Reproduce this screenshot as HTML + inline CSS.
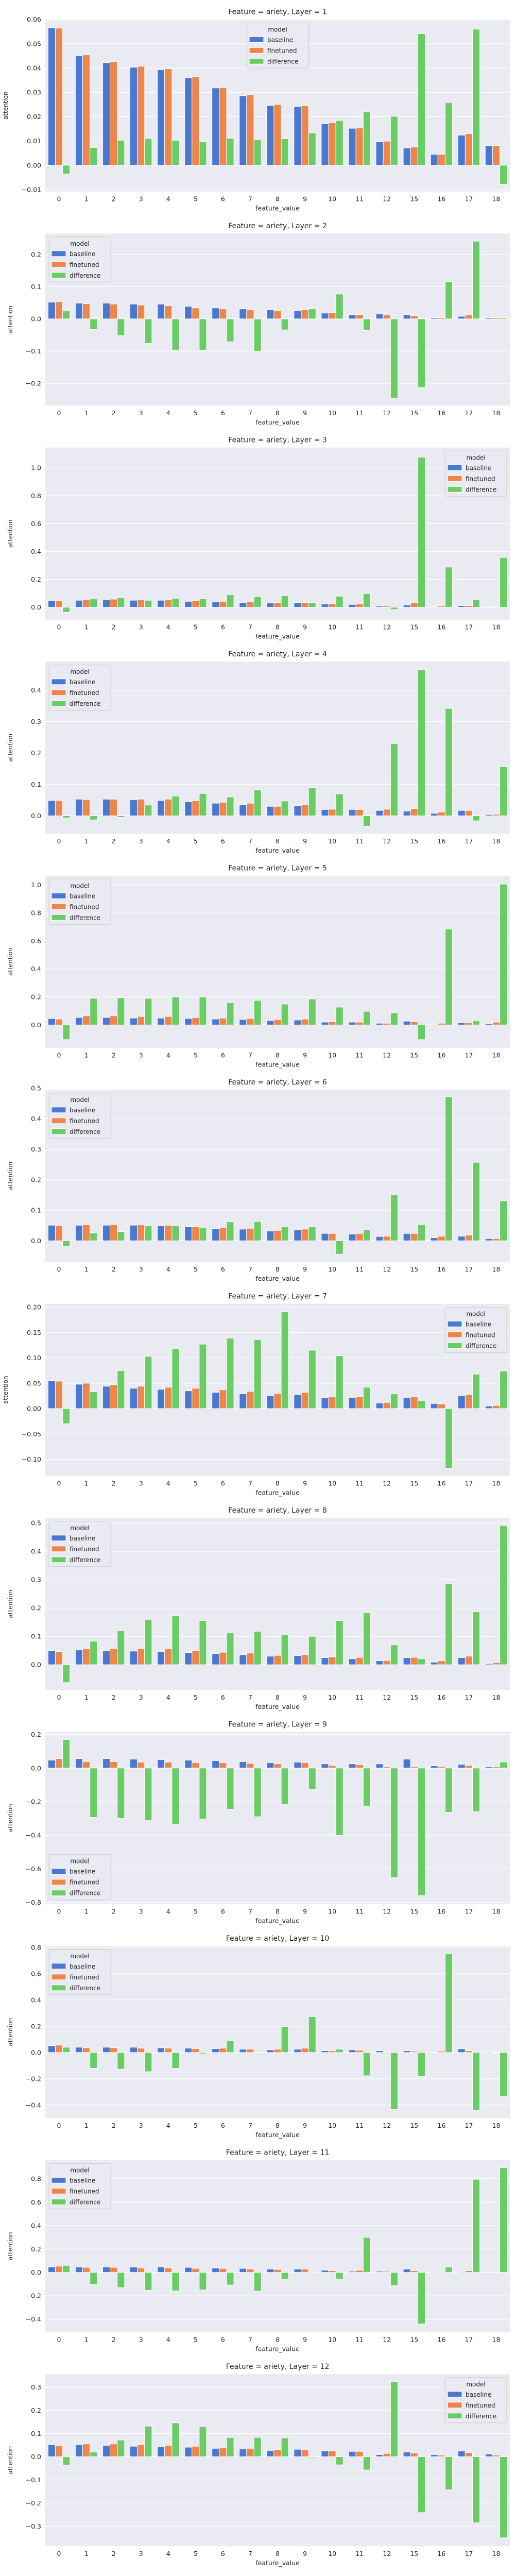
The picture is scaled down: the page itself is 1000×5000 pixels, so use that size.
<!DOCTYPE html>
<html><head><meta charset="utf-8">
<style>
html,body{margin:0;padding:0;background:#fff;}
svg{display:block;font-family:"DejaVu Sans","Liberation Sans",sans-serif;}
</style></head>
<body>
<svg id="chart" width="1000" height="5000" viewBox="0 0 1000 5000" xmlns="http://www.w3.org/2000/svg"></svg>
<script>
const categories = ["0","1","2","3","4","5","6","7","8","9","10","11","12","15","16","17","18"];
const seriesNames = ["baseline","finetuned","difference"];

const baseline_L1 = [.0566,.045,.0422,.0403,.0393,.0361,.0318,.0286,.0246,.0242,.0171,.0152,.0096,.0071,.0045,.0124,.0081];
const finetuned_L1 = [.0564,.0454,.0426,.0407,.0397,.0364,.032,.029,.025,.0246,.0175,.0154,.0099,.0075,.0045,.013,.0081];
const difference_L1 = [-.0036,.0073,.0103,.0111,.0103,.0096,.0111,.0105,.0109,.0133,.0184,.022,.0201,.0541,.0258,.056,-.0078];

const baseline_L2 = [.052,.049,.049,.046,.046,.039,.034,.031,.028,.026,.018,.013,.015,.013,.004,.008,.004];
const finetuned_L2 = [.054,.047,.046,.043,.041,.034,.031,.028,.026,.028,.020,.013,.012,.010,.004,.012,.004];
const difference_L2 = [.026,-.033,-.052,-.076,-.097,-.098,-.071,-.100,-.034,.031,.077,-.036,-.246,-.213,.115,.241,.004];

const baseline_L3 = [.049,.05,.054,.05,.05,.042,.038,.034,.030,.034,.023,.02,.008,.016,.004,.012,.001];
const finetuned_L3 = [.046,.054,.058,.054,.054,.046,.042,.038,.034,.034,.026,.023,.008,.034,.008,.012,.004];
const difference_L3 = [-.036,.06,.068,.05,.064,.06,.09,.075,.083,.031,.079,.098,-.017,1.077,.288,.053,.357];

const baseline_L4 = [.049,.053,.053,.051,.049,.045,.04,.036,.03,.032,.02,.02,.017,.015,.008,.017,.004];
const finetuned_L4 = [.049,.052,.053,.053,.053,.048,.043,.04,.03,.035,.021,.02,.021,.023,.012,.017,.005];
const difference_L4 = [-.007,-.013,-.005,.034,.063,.071,.06,.083,.047,.09,.07,-.033,.23,.465,.342,-.016,.157];

const baseline_L5 = [.046,.053,.053,.049,.049,.046,.042,.039,.032,.035,.02,.02,.012,.027,.004,.016,.008];
const finetuned_L5 = [.042,.065,.065,.06,.06,.053,.049,.046,.039,.042,.023,.02,.012,.023,.012,.016,.02];
const difference_L5 = [-.105,.19,.194,.19,.2,.2,.16,.175,.149,.186,.127,.097,.087,-.105,.685,.03,1.006];

const baseline_L6 = [.051,.051,.051,.051,.049,.046,.04,.038,.032,.036,.024,.022,.014,.024,.01,.015,.007];
const finetuned_L6 = [.049,.053,.053,.053,.051,.047,.044,.041,.034,.038,.024,.024,.015,.024,.015,.019,.007];
const difference_L6 = [-.018,.026,.03,.049,.049,.044,.062,.063,.046,.047,-.044,.037,.152,.053,.472,.257,.131];

const baseline_L7 = [.055,.048,.044,.04,.038,.035,.032,.029,.025,.028,.021,.022,.011,.022,.01,.026,.005];
const finetuned_L7 = [.054,.05,.047,.044,.042,.04,.037,.034,.03,.032,.023,.023,.012,.023,.009,.028,.006];
const difference_L7 = [-.03,.033,.075,.103,.118,.127,.139,.136,.191,.115,.104,.042,.029,.016,-.118,.068,.074];

const baseline_L8 = [.05,.052,.05,.048,.046,.043,.039,.035,.03,.032,.025,.021,.014,.025,.009,.025,.004];
const finetuned_L8 = [.046,.057,.057,.057,.056,.05,.044,.041,.033,.035,.028,.026,.015,.026,.014,.03,.008];
const difference_L8 = [-.063,.083,.12,.16,.172,.156,.112,.118,.105,.1,.156,.184,.07,.021,.285,.187,.491];

const baseline_L9 = [.047,.056,.056,.053,.05,.047,.044,.038,.032,.035,.025,.025,.025,.053,.013,.022,.007];
const finetuned_L9 = [.056,.038,.038,.035,.035,.032,.032,.028,.025,.032,.016,.02,.008,.01,.01,.016,.007];
const difference_L9 = [.17,-.294,-.3,-.313,-.334,-.303,-.245,-.29,-.214,-.127,-.401,-.226,-.653,-.76,-.263,-.26,.036];

const baseline_L10 = [.052,.04,.04,.04,.036,.033,.029,.025,.02,.025,.013,.02,.013,.013,.002,.028,.005];
const finetuned_L10 = [.056,.036,.036,.033,.033,.029,.033,.025,.025,.033,.013,.017,.005,.01,.01,.013,.002];
const difference_L10 = [.04,-.12,-.127,-.146,-.12,-.01,.088,0,.198,.272,.025,-.177,-.433,-.182,.75,-.44,-.335];

const baseline_L11 = [.047,.047,.047,.047,.047,.043,.038,.034,.029,.029,.019,.01,.01,.029,.006,.006,.003];
const finetuned_L11 = [.053,.043,.043,.038,.038,.034,.034,.029,.025,.029,.015,.019,.01,.015,.006,.015,.003];
const difference_L11 = [.06,-.103,-.13,-.153,-.157,-.149,-.107,-.16,-.056,.006,-.056,.3,-.113,-.44,.046,.795,.894];

const baseline_L12 = [.052,.052,.049,.045,.043,.041,.036,.033,.027,.032,.025,.023,.009,.02,.009,.025,.012];
const finetuned_L12 = [.049,.055,.055,.052,.049,.045,.04,.036,.03,.029,.025,.023,.014,.016,.007,.018,.007];
const difference_L12 = [-.037,.02,.072,.132,.146,.13,.083,.083,.081,-.004,-.035,-.057,.323,-.241,-.143,-.285,-.35];

const yMin = [-0.0108,-0.269,-0.089,-0.057,-0.163,-0.069,-0.1327,-0.089,-0.81,-0.499,-0.51,-0.386];
const yMax = [0.06,0.265,1.146,0.491,1.066,0.495,0.2065,0.518,0.215,0.81,0.959,0.356];
const tickStart = [-0.01,-0.2,0,0,0,0,-0.1,0,-0.8,-0.4,-0.4,-0.3];
const tickEnd = [0.06,0.2,1.0,0.4,1.0,0.5,0.2,0.5,0.2,0.8,0.8,0.3];
const tickStep = [0.01,0.1,0.2,0.1,0.2,0.1,0.05,0.1,0.2,0.2,0.2,0.1];
const tickDecimals = [2,1,1,1,1,1,2,1,1,1,1,1];
const legendPos = ["center","left","right","left","left","left","right","left","lowerleft","left","left","right"];

const layers = [
 [baseline_L1,finetuned_L1,difference_L1],[baseline_L2,finetuned_L2,difference_L2],
 [baseline_L3,finetuned_L3,difference_L3],[baseline_L4,finetuned_L4,difference_L4],
 [baseline_L5,finetuned_L5,difference_L5],[baseline_L6,finetuned_L6,difference_L6],
 [baseline_L7,finetuned_L7,difference_L7],[baseline_L8,finetuned_L8,difference_L8],
 [baseline_L9,finetuned_L9,difference_L9],[baseline_L10,finetuned_L10,difference_L10],
 [baseline_L11,finetuned_L11,difference_L11],[baseline_L12,finetuned_L12,difference_L12]
];

const colors = ["#4878d0","#ee854a","#6acc64"];
const NS = "http://www.w3.org/2000/svg";
const svg = document.getElementById("chart");
function mk(tag, attrs, parent){
  const e = document.createElementNS(NS, tag);
  for (const k in attrs) e.setAttribute(k, attrs[k]);
  (parent||svg).appendChild(e);
  return e;
}
const L = 88, R = 990, W = R - L, H = 334;
const band = W / categories.length;
const barW = band * 0.8 / 3;

layers.forEach((series, p) => {
  const top = 37.7 + 415.5 * p;
  const g = mk("g", {});
  
  
  const y = v => top + (yMax[p] - v) / (yMax[p] - yMin[p]) * H;
  const xc = i => L + band * (i + 0.5);

  const bg = mk("rect", {x:L, y:top, width:W, height:H, fill:"#eaeaf2"}, g);
  
  

  const n = Math.round((tickEnd[p] - tickStart[p]) / tickStep[p]);
  for (let k = 0; k <= n; k++) {
    const v = tickStart[p] + k * tickStep[p];
    const yy = y(v);
    const gl = mk("line", {x1:L, x2:R, y1:yy, y2:yy, stroke:"#fff", "stroke-width":1.2}, g);
    
    
    let s = Math.abs(v) < 1e-9 ? (0).toFixed(tickDecimals[p]) : v.toFixed(tickDecimals[p]);
    s = s.replace("-", "\u2212");
    const t = mk("text", {x:L-8, y:yy+4.5, "text-anchor":"end", "font-size":12.5, fill:"#262626"}, g);
    t.textContent = s;
    
    
  }

  series.forEach((vals, s) => {
    vals.forEach((v, i) => {
      const x = xc(i) - band*0.4 + s*barW;
      const y0 = y(0), y1 = y(v);
      const r = mk("rect", {x:x, y:Math.min(y0,y1), width:barW, height:Math.max(0.5,Math.abs(y1-y0)), fill:colors[s], stroke:"#fff", "stroke-width":1}, g);
      
      
    });
  });

  categories.forEach((c, i) => {
    const t = mk("text", {x:xc(i), y:top+H+19, "text-anchor":"middle", "font-size":12.5, fill:"#262626"}, g);
    t.textContent = c;
    
    
  });

  const xl = mk("text", {x:L+W/2, y:top+H+37, "text-anchor":"middle", "font-size":12.5, fill:"#262626"}, g);
  xl.textContent = "feature_value";
  
  

  const yl = mk("text", {x:0, y:0, transform:"translate(" + (p===0||p===6?15:24) + "," + (top+H/2) + ") rotate(-90)", "text-anchor":"middle", "font-size":12, fill:"#262626"}, g);
  yl.textContent = "attention";
  
  

  const tt = mk("text", {x:L+W/2, y:top-10, "text-anchor":"middle", "font-size":14, fill:"#262626"}, g);
  tt.textContent = "Feature = ariety, Layer = " + (p+1);
  
  

  // legend
  const lw = 120, lh = 88;
  let lx, ly;
  if (legendPos[p] === "center") { lx = 479; ly = top + 6.6; }
  else if (legendPos[p] === "left") { lx = 95; ly = top + 6.6; }
  else if (legendPos[p] === "right") { lx = R - lw - 6; ly = top + 6.6; }
  else { lx = 95; ly = top + H - lh - 8; }
  const lg = mk("g", {}, g);
  
  
  mk("rect", {x:lx, y:ly, width:lw, height:lh, rx:3, fill:"#eaeaf2", "fill-opacity":0.85, stroke:"#cccccc"}, lg);
  const lt = mk("text", {x:lx+lw/2, y:ly+17, "text-anchor":"middle", "font-size":12, fill:"#262626"}, lg);
  lt.textContent = "model";
  
  
  seriesNames.forEach((nm, s) => {
    const ey = ly + 33 + s*21;
    const e = mk("g", {}, lg);
    
    
    mk("rect", {x:lx+5, y:ey-6, width:28, height:11, fill:colors[s], stroke:"#fff", "stroke-width":1}, e);
    const et = mk("text", {x:lx+40, y:ey+4, "font-size":12, fill:"#262626"}, e);
    et.textContent = nm;
  });
});
</script>
</body></html>
